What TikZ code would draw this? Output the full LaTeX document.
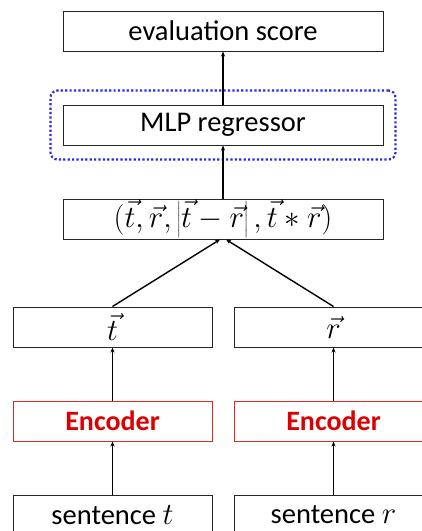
\documentclass[tikz,border=0pt]{standalone}
\usepackage{graphicx}
\usepackage{fontspec}
\setmainfont{Carlito}
\usetikzlibrary{arrows.meta,fit}
\definecolor{encred}{RGB}{220,0,0}
\definecolor{dotblue}{RGB}{40,40,235}
\newcommand{\bigmath}[1]{\scalebox{1.24}{$#1$}}
\begin{document}
\begin{tikzpicture}[x=1pt,y=-1pt,
  box/.style={draw=black!85, line width=1pt, minimum height=40pt, inner sep=0pt, font=\fontsize{28.5}{32}\selectfont},
  wide/.style={box, minimum width=320pt},
  half/.style={box, minimum width=199pt},
  encbox/.style={half, draw=encred!85, text=encred, font=\fontsize{28}{32}\selectfont\bfseries},
  conn/.style={line width=1.4pt, -{Stealth[length=5pt,width=4pt]}}
]
\useasboundingbox (0,0) rectangle (422,531);
\node[wide] (eval) at (223,31) {evaluation score};
\node[wide] (mlp) at (223,125) {MLP regressor};
\node[draw=dotblue, line width=2.2pt, dash pattern=on 2.2pt off 2.2pt, rounded corners=7pt, inner xsep=12pt, inner ysep=14pt, fit=(mlp)] (mlpfit) {};
\node[wide] (tuple) at (223,219) {\bigmath{(\vec{t},\vec{r},\left|\vec{t}-\vec{r}\right|,\vec{t}*\vec{r})}};
\node[half] (tv) at (112.5,327) {\bigmath{\vec{t}}};
\node[half] (rv) at (333.5,327) {\bigmath{\vec{r}}};
\node[encbox] (enct) at (112.5,421) {Encoder};
\node[encbox] (encr) at (333.5,421) {Encoder};
\node[half] (st) at (112.5,515) {sentence \bigmath{t}};
\node[half] (sr) at (333.5,515) {sentence \bigmath{r}};
\draw[conn] (mlp.north) -- (eval.south);
\draw[conn] (tuple.north) -- (mlp.south);
\draw[conn] (tv.north) -- ([xshift=-3pt]tuple.south);
\draw[conn] (rv.north) -- ([xshift=3pt]tuple.south);
\draw[conn] (enct.north) -- (tv.south);
\draw[conn] (encr.north) -- (rv.south);
\draw[conn] (st.north) -- (enct.south);
\draw[conn] (sr.north) -- (encr.south);
\end{tikzpicture}
\end{document}
